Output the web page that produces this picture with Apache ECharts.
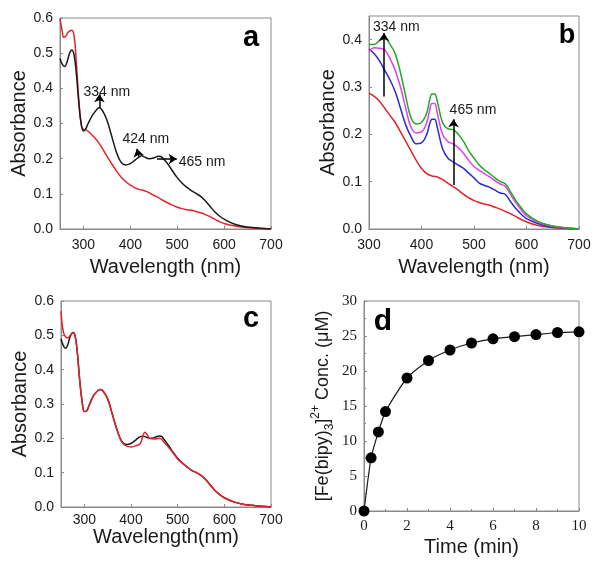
<!DOCTYPE html>
<html>
<head>
<meta charset="utf-8">
<script src="https://cdn.jsdelivr.net/npm/echarts@6/dist/echarts.min.js"></script>
<style>html,body{margin:0;padding:0;background:#fff}#c{width:601px;height:567px}</style>
</head>
<body>
<div id="c"></div>
<script>
// ---- Panel a ----
const wlA_black = [250,255,260,265,270,275,280,285,290,295,300,305,310,320,330,334,340,350,360,370,380,390,400,410,420,424,430,440,450,460,465,470,480,490,500,510,520,530,540,550,560,570,580,590,600,620,640,660,680,700];
const absA_black = [0.485,0.468,0.462,0.475,0.498,0.509,0.495,0.44,0.36,0.30,0.279,0.285,0.30,0.325,0.342,0.345,0.338,0.31,0.265,0.22,0.19,0.182,0.186,0.196,0.206,0.208,0.205,0.20,0.202,0.207,0.206,0.20,0.185,0.165,0.146,0.131,0.119,0.109,0.101,0.093,0.08,0.064,0.049,0.037,0.028,0.015,0.008,0.004,0.002,0.0];
const wlA_red = [250,255,258,262,268,275,280,285,290,295,300,305,310,320,330,340,350,360,370,380,390,400,410,420,430,440,450,460,470,480,490,500,510,520,530,540,550,560,570,580,590,600,620,640,660,680,700];
const absA_red = [0.598,0.56,0.545,0.548,0.56,0.565,0.55,0.47,0.37,0.30,0.283,0.282,0.278,0.265,0.25,0.23,0.207,0.186,0.166,0.148,0.135,0.125,0.117,0.112,0.109,0.103,0.096,0.089,0.081,0.074,0.068,0.062,0.058,0.055,0.053,0.05,0.046,0.041,0.035,0.028,0.021,0.016,0.009,0.005,0.003,0.001,0.0];

// ---- Panel b ----
const wlB = [300,310,320,330,340,350,360,370,380,390,400,410,415,420,425,430,440,450,460,470,480,490,500,510,520,530,540,550,560,570,580,590,600,620,640,660,680,700];
const absB_red = [0.287,0.28,0.27,0.255,0.24,0.225,0.205,0.185,0.165,0.145,0.128,0.117,0.114,0.112,0.111,0.11,0.105,0.097,0.09,0.082,0.073,0.066,0.06,0.056,0.053,0.05,0.046,0.042,0.037,0.032,0.026,0.02,0.015,0.008,0.004,0.002,0.001,0.0];
const absB_blue = [0.38,0.37,0.355,0.335,0.315,0.29,0.255,0.22,0.195,0.18,0.182,0.20,0.22,0.232,0.232,0.215,0.17,0.15,0.142,0.135,0.128,0.118,0.108,0.097,0.092,0.088,0.082,0.076,0.073,0.057,0.043,0.031,0.022,0.012,0.006,0.003,0.001,0.0];
const absB_magenta = [0.375,0.383,0.382,0.378,0.36,0.335,0.30,0.255,0.215,0.203,0.205,0.225,0.248,0.265,0.265,0.245,0.20,0.185,0.18,0.172,0.16,0.145,0.132,0.124,0.117,0.11,0.102,0.095,0.09,0.072,0.055,0.04,0.028,0.015,0.008,0.004,0.002,0.0];
const absB_green = [0.39,0.39,0.398,0.403,0.39,0.37,0.33,0.28,0.235,0.222,0.225,0.245,0.27,0.285,0.285,0.27,0.225,0.212,0.21,0.20,0.185,0.165,0.15,0.135,0.125,0.117,0.108,0.10,0.095,0.078,0.06,0.045,0.032,0.017,0.009,0.004,0.002,0.0];

// ---- Panel c ----
const wlC = [250,255,260,265,270,275,280,285,290,295,300,305,310,320,330,335,340,350,360,370,380,390,400,410,420,425,430,435,440,450,460,465,470,480,490,500,510,520,530,540,550,560,570,580,590,600,620,640,660,680,700];
const absC_black = [0.49,0.47,0.462,0.475,0.498,0.508,0.50,0.45,0.37,0.31,0.278,0.28,0.295,0.325,0.34,0.342,0.338,0.315,0.27,0.225,0.192,0.182,0.185,0.195,0.205,0.206,0.205,0.202,0.20,0.202,0.207,0.206,0.198,0.18,0.16,0.142,0.128,0.117,0.107,0.10,0.092,0.08,0.064,0.048,0.036,0.027,0.015,0.008,0.005,0.002,0.0];
const absC_red = [0.57,0.51,0.495,0.493,0.50,0.507,0.50,0.45,0.37,0.31,0.278,0.28,0.295,0.325,0.34,0.342,0.338,0.315,0.27,0.225,0.19,0.178,0.175,0.178,0.185,0.205,0.218,0.21,0.20,0.198,0.20,0.198,0.19,0.175,0.158,0.14,0.128,0.117,0.107,0.10,0.092,0.08,0.064,0.048,0.036,0.027,0.015,0.008,0.005,0.002,0.0];

// ---- Panel d ----
const timeD = [0,0.33,0.67,1,2,3,4,5,6,7,8,9,10];
const concD = [0,7.6,11.3,14.2,19.0,21.5,23.0,24.0,24.6,24.9,25.2,25.5,25.6];

const zip = (xs, ys) => xs.map((x, i) => [x, ys[i]]);
const FONT = 'Liberation Sans';
const SERIF = 'Liberation Serif';
const AX = '#8a8a8a';
const TXT = '#1a1a1a';

function xAx(idx, min, max, interval, labels, name, gap, margin, font) {
  return {
    type: 'value', gridIndex: idx, min: min, max: max, interval: interval,
    name: name, nameLocation: 'middle', nameGap: gap,
    nameTextStyle: { fontFamily: FONT, fontSize: 20, color: TXT },
    axisLine: { show: true, lineStyle: { color: AX, width: 1 } },
    axisTick: { show: true, inside: true, length: 3, lineStyle: { color: AX }, customValues: labels },
    axisLabel: { fontFamily: font || FONT, fontSize: 14, color: TXT, margin: margin, customValues: labels },
    splitLine: { show: false }
  };
}
function yAx(idx, min, max, interval, labels, fmt, name, gap, font) {
  return {
    type: 'value', gridIndex: idx, min: min, max: max, interval: interval,
    name: name, nameLocation: 'middle', nameGap: gap, nameRotate: 90,
    nameTextStyle: { fontFamily: FONT, fontSize: 20, color: TXT },
    axisLine: { show: true, lineStyle: { color: AX, width: 1 } },
    axisTick: { show: true, inside: true, length: 3, lineStyle: { color: AX }, customValues: labels },
    axisLabel: { fontFamily: font || FONT, fontSize: 14, color: TXT, margin: 7, customValues: labels, formatter: fmt },
    splitLine: { show: false }
  };
}
const f1 = v => v.toFixed(1);

function line(name, xi, data, color) {
  return {
    name: name, type: 'line', xAxisIndex: xi, yAxisIndex: xi, data: data,
    showSymbol: false, symbol: 'none', smooth: 0.4, clip: true,
    lineStyle: { color: color, width: 1.5 }, itemStyle: { color: color }, z: 3
  };
}
function arrow(x1, y1, x2, y2) {
  return [{ coord: [x1, y1] }, { coord: [x2, y2] }];
}
function note(x, y, text) {
  return { coord: [x, y], value: text, symbol: 'circle', symbolSize: 1,
    itemStyle: { color: 'rgba(0,0,0,0)' },
    label: { show: true, position: 'inside', formatter: text, fontFamily: FONT, fontSize: 14, color: TXT } };
}
const arrowStyle = {
  symbol: ['none', 'arrow'], symbolSize: 8, silent: true, animation: false,
  lineStyle: { color: '#000', width: 1.5, type: 'solid' }, label: { show: false }
};

const redA = line('a-red', 0, zip(wlA_red, absA_red), '#e0242a');
const blackA = line('a-black', 0, zip(wlA_black, absA_black), '#1a1a1a');
blackA.markLine = Object.assign({}, arrowStyle, { data: [
  arrow(334, 0.345, 334, 0.383),
  arrow(418, 0.206, 414, 0.228),
  arrow(457, 0.199, 499, 0.199)
]});
blackA.markPoint = { silent: true, animation: false, data: [
  note(350, 0.39, '334 nm'), note(433, 0.255, '424 nm'), note(553, 0.19, '465 nm')
]};

const redB = line('b-red', 1, zip(wlB, absB_red), '#e0242a');
const blueB = line('b-blue', 1, zip(wlB, absB_blue), '#2a2ad8');
const magB = line('b-magenta', 1, zip(wlB, absB_magenta), '#e040e8');
const greenB = line('b-green', 1, zip(wlB, absB_green), '#22a82a');
greenB.markLine = Object.assign({}, arrowStyle, { data: [
  arrow(328.5, 0.28, 328.5, 0.414),
  arrow(461, 0.093, 461, 0.232)
]});
greenB.markPoint = { silent: true, animation: false, data: [
  note(352, 0.426, '334 nm'), note(498, 0.252, '465 nm')
]};

const blackC = line('c-black', 2, zip(wlC, absC_black), '#1a1a1a');
const redC = line('c-red', 2, zip(wlC, absC_red), '#e0242a');

const dSeries = {
  name: 'd', type: 'line', xAxisIndex: 3, yAxisIndex: 3, data: zip(timeD, concD),
  symbol: 'circle', symbolSize: 11, smooth: 0.2,
  lineStyle: { color: '#1a1a1a', width: 1.2 }, itemStyle: { color: '#000' }
};

const yNameD = {
  type: 'value', gridIndex: 3, min: 0, max: 30, interval: 5,
  name: '{n|[Fe(bipy)}{sub|3}{n|]}{sup|2+}{n| Conc. (μM)}', nameLocation: 'middle', nameGap: 12, nameRotate: 90,
  nameTextStyle: { fontFamily: FONT, fontSize: 18, color: TXT, rich: {
    n: { fontFamily: FONT, fontSize: 18, color: TXT, lineHeight: 30, verticalAlign: 'middle' },
    sub: { fontFamily: FONT, fontSize: 12, color: TXT, lineHeight: 14, verticalAlign: 'bottom', padding: [0, 0, 2, 0] },
    sup: { fontFamily: FONT, fontSize: 12, color: TXT, lineHeight: 14, verticalAlign: 'top', padding: [2, 0, 0, 0] }
  }},
  axisLine: { show: true, lineStyle: { color: AX } },
  axisTick: { show: true, inside: true, length: 3, lineStyle: { color: AX } },
  minorTick: { show: true, splitNumber: 2, length: 2, lineStyle: { color: AX } },
  axisLabel: { fontFamily: SERIF, fontSize: 15, color: TXT, margin: 7 },
  splitLine: { show: false }
};
const xD = xAx(3, 0, 10, 2, undefined, 'Time (min)', 26, 8, SERIF);
xD.axisLabel.fontSize = 15;
delete xD.axisTick.customValues; delete xD.axisLabel.customValues;
xD.minorTick = { show: true, splitNumber: 2, length: 2, lineStyle: { color: AX } };

const gridBase = { show: true, borderColor: AX, borderWidth: 1, backgroundColor: 'transparent', containLabel: false };

const option = {
  animation: false,
  backgroundColor: '#fff',
  grid: [
    Object.assign({ left: 60, top: 18, width: 211, height: 211 }, gridBase),
    Object.assign({ left: 369, top: 16, width: 210, height: 213 }, gridBase),
    Object.assign({ left: 61, top: 301, width: 210, height: 206 }, gridBase),
    Object.assign({ left: 364, top: 301, width: 215, height: 210 }, gridBase)
  ],
  xAxis: [
    xAx(0, 250, 700, 50, [300, 400, 500, 600, 700], 'Wavelength (nm)', 28, 9),
    xAx(1, 300, 700, 100, [300, 400, 500, 600, 700], 'Wavelength (nm)', 28, 9),
    xAx(2, 250, 700, 50, [300, 400, 500, 600, 700], 'Wavelength(nm)', 20, 6),
    xD
  ],
  yAxis: [
    yAx(0, 0, 0.6, 0.1, [0, 0.1, 0.2, 0.3, 0.4, 0.5, 0.6], f1, 'Absorbance', 31),
    yAx(1, 0, 0.45, 0.05, [0, 0.1, 0.2, 0.3, 0.4], f1, 'Absorbance', 31),
    yAx(2, 0, 0.6, 0.1, [0, 0.1, 0.2, 0.3, 0.4, 0.5, 0.6], f1, 'Absorbance', 31),
    yNameD
  ],
  graphic: [
    { type: 'text', x: 251, y: 38, style: { text: 'a', font: 'bold 29px "Liberation Sans"', fill: '#000', textAlign: 'center', textVerticalAlign: 'middle' } },
    { type: 'text', x: 567, y: 36, style: { text: 'b', font: 'bold 27px "Liberation Sans"', fill: '#000', textAlign: 'center', textVerticalAlign: 'middle' } },
    { type: 'text', x: 251, y: 319, style: { text: 'c', font: 'bold 29px "Liberation Sans"', fill: '#000', textAlign: 'center', textVerticalAlign: 'middle' } },
    { type: 'text', x: 383, y: 322, style: { text: 'd', font: 'bold 30px "Liberation Sans"', fill: '#000', textAlign: 'center', textVerticalAlign: 'middle' } }
  ],
  series: [redA, blackA, redB, blueB, magB, greenB, blackC, redC, dSeries]
};

const chart = echarts.init(document.getElementById('c'), null, { renderer: 'canvas' });
chart.setOption(option);
</script>
</body>
</html>
